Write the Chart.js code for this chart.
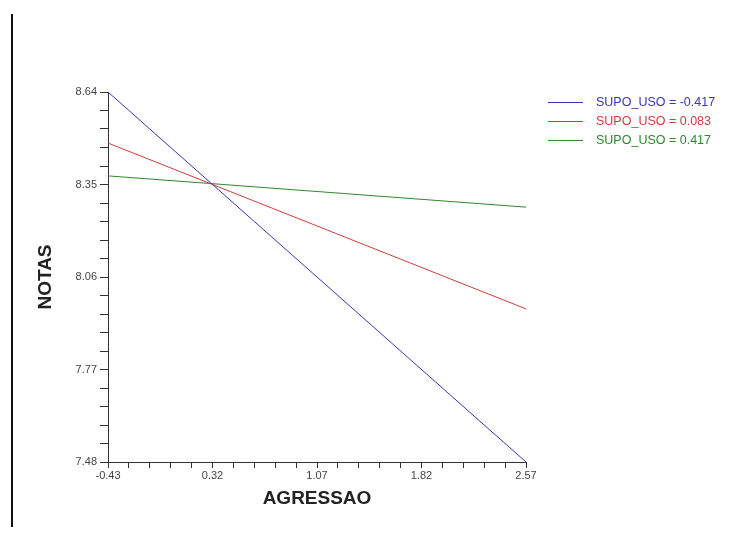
<!DOCTYPE html>
<html>
<head>
<meta charset="utf-8">
<script src="https://cdn.jsdelivr.net/npm/chart.js@4.4.1/dist/chart.umd.min.js"></script>
<style>
  body { margin: 0; background: #fff; }
  #wrap { position: relative; width: 741px; height: 547px; }
  #edge { position: absolute; left: 11px; top: 14px; width: 2px; height: 513px; background: #111; }
</style>
</head>
<body>
<div id="wrap">
  <div id="edge"></div>
  <canvas id="myChart"></canvas>
</div>
<script>
// values
const agressao = [-0.43, 2.57];
const notasNeg = [8.64, 7.48];     // SUPO_USO = -0.417
const notasMid = [8.48, 7.96];     // SUPO_USO = 0.083
const notasPos = [8.377, 8.279];   // SUPO_USO = 0.417
const seriesNames = ['SUPO_USO = -0.417', 'SUPO_USO = 0.083', 'SUPO_USO = 0.417'];
const seriesColors = ['#3636b0', '#d03c3c', '#2e882e'];

const xTickLabels = ['-0.43', '0.32', '1.07', '1.82', '2.57'];
const yTickLabels = ['7.48', '7.77', '8.06', '8.35', '8.64'];
const minorPerMajor = 5;

// major + minor tick positions between the labelled ones
function allTicks(labels) {
  const vals = labels.map(Number);
  const out = [];
  for (let i = 0; i < vals.length - 1; i++) {
    const step = (vals[i + 1] - vals[i]) / minorPerMajor;
    for (let k = 0; k < minorPerMajor; k++) out.push(vals[i] + k * step);
  }
  out.push(vals[vals.length - 1]);
  return out;
}

function pts(ys) {
  return agressao.map((x, i) => ({ x: x, y: ys[i] }));
}

const legendPlugin = {
  id: 'sideLegend',
  afterDraw(chart) {
    const c = chart.ctx;
    const x0 = chart.chartArea.right + 22;
    c.save();
    c.font = '12.5px "Liberation Sans", Arial, sans-serif';
    c.textBaseline = 'middle';
    chart.data.datasets.forEach((ds, i) => {
      const y = chart.chartArea.top + 10 + i * 19;
      c.strokeStyle = ds.borderColor;
      c.lineWidth = 1;
      c.beginPath();
      c.moveTo(x0, y + 0.5);
      c.lineTo(x0 + 35, y + 0.5);
      c.stroke();
      c.fillStyle = ds.borderColor;
      c.fillText(ds.label, x0 + 48, y + 1);
    });
    c.restore();
  }
};

const ctx = document.getElementById('myChart');

new Chart(ctx, {
  type: 'line',
  data: {
    datasets: [notasNeg, notasMid, notasPos].map((ys, i) => ({
      label: seriesNames[i],
      data: pts(ys),
      borderColor: seriesColors[i],
      borderWidth: 1,
      pointRadius: 0,
      tension: 0,
      clip: false
    }))
  },
  options: {
    responsive: true,
    maintainAspectRatio: false,
    animation: false,
    layout: { padding: { left: 10, top: 92, right: 215, bottom: 20 } },
    plugins: { legend: { display: false }, tooltip: { enabled: false } },
    scales: {
      x: {
        type: 'linear',
        min: -0.43,
        max: 2.57,
        afterBuildTicks: s => { s.ticks = allTicks(xTickLabels).map(v => ({ value: v })); },
        afterFit: s => { s.height = 65; },
        grid: { drawOnChartArea: false, drawTicks: true, tickLength: 6, color: '#333' },
        border: { display: true, color: '#333', width: 1 },
        ticks: {
          autoSkip: false,
          maxRotation: 0,
          padding: 1,
          color: '#444',
          font: { family: '"Liberation Sans", Arial, sans-serif', size: 11 },
          callback: (v, i) => (i % minorPerMajor === 0 ? xTickLabels[i / minorPerMajor] : '')
        },
        title: {
          display: true,
          text: 'AGRESSAO',
          color: '#222',
          font: { family: '"Liberation Sans", Arial, sans-serif', size: 19, weight: 'bold' },
          padding: { top: 4, bottom: 17 }
        }
      },
      y: {
        type: 'linear',
        min: 7.48,
        max: 8.64,
        afterBuildTicks: s => { s.ticks = allTicks(yTickLabels).map(v => ({ value: v })); },
        afterFit: s => { s.width = 98; },
        grid: { drawOnChartArea: false, drawTicks: true, tickLength: 8, color: '#333' },
        border: { display: true, color: '#333', width: 1 },
        ticks: {
          autoSkip: false,
          padding: 3,
          color: '#444',
          font: { family: '"Liberation Sans", Arial, sans-serif', size: 11 },
          callback: (v, i) => (i % minorPerMajor === 0 ? yTickLabels[i / minorPerMajor] : '')
        },
        title: {
          display: true,
          text: 'NOTAS',
          color: '#222',
          font: { family: '"Liberation Sans", Arial, sans-serif', size: 19, weight: 'bold' },
          padding: { top: 24, bottom: 4 }
        }
      }
    }
  },
  plugins: [legendPlugin]
});
</script>
</body>
</html>
